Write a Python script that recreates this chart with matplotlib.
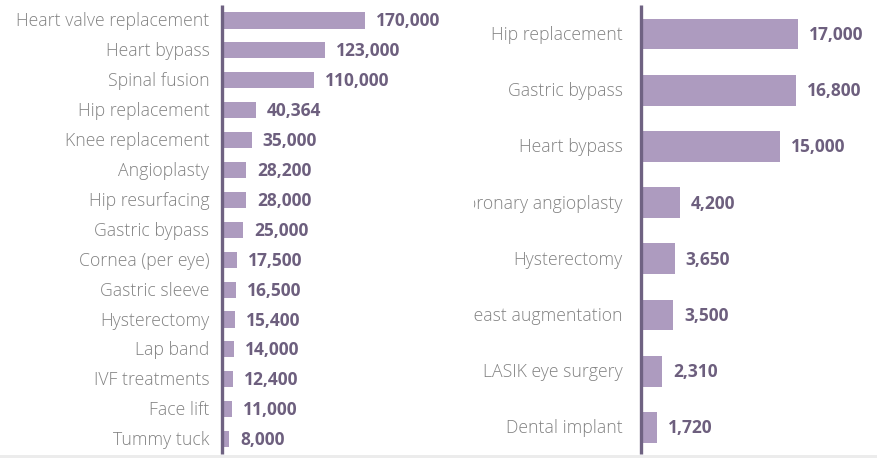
import matplotlib.pyplot as plt
from matplotlib.transforms import offset_copy

# Procedure costs (USD) - left: US prices, right: abroad prices
left_labels = ["Heart valve replacement", "Heart bypass", "Spinal fusion", "Hip replacement",
               "Knee replacement", "Angioplasty", "Hip resurfacing", "Gastric bypass",
               "Cornea (per eye)", "Gastric sleeve", "Hysterectomy", "Lap band",
               "IVF treatments", "Face lift", "Tummy tuck"]
left_values = [170000, 123000, 110000, 40364, 35000, 28200, 28000, 25000,
               17500, 16500, 15400, 14000, 12400, 11000, 8000]

right_labels = ["Hip replacement", "Gastric bypass", "Heart bypass", "Coronary angioplasty",
                "Hysterectomy", "Breast augmentation", "LASIK eye surgery", "Dental implant"]
right_values = [17000, 16800, 15000, 4200, 3650, 3500, 2310, 1720]

BAR = "#ad9bbf"
AXIS = "#6f6282"
LABEL = "#828282"
VALUE = "#6d5f7e"

W, H = 878, 458
plt.rcParams["font.family"] = ["Open Sans", "DejaVu Sans"]

fig = plt.figure(figsize=(W / 100, H / 100), dpi=100)


def panel(x0, x1, spine_x, px_per_unit, labels, values, top_px, step_px,
          bar_h, label_gap):
    ax = fig.add_axes([x0 / W, 0, (x1 - x0) / W, 1])
    n = len(labels)
    ax.set_xlim(-(spine_x - x0) / px_per_unit, (x1 - spine_x) / px_per_unit)
    ax.set_ylim(n - 1 + (H - top_px - step_px * (n - 1)) / step_px, -top_px / step_px)
    ax.axis("off")
    ys = list(range(n))
    ax.barh(ys, values, height=bar_h, color=BAR, zorder=2)
    ax.plot([0, 0], [-(top_px - 5) / step_px, n - 1 + (454 - top_px - step_px * (n - 1)) / step_px],
            color=AXIS, lw=2.4, zorder=3, solid_capstyle="butt")
    lab_tr = offset_copy(ax.transData, fig=fig, x=-label_gap, y=-1, units="dots")
    val_tr = offset_copy(ax.transData, fig=fig, x=11, y=-1, units="dots")
    for y, lab, v in zip(ys, labels, values):
        ax.text(0, y, lab, transform=lab_tr, ha="right", va="center",
                fontsize=12.7, color=LABEL, fontweight="light", clip_on=True)
        ax.text(v, y, f"{v:,}", transform=val_tr, ha="left", va="center",
                fontsize=12.5, color=VALUE, fontweight="bold")
    return ax


panel(0, 440, 222.5, 142 / 170000, left_labels, left_values, 20.5, 29.9, 0.54, 13)
panel(474, W, 641, 157 / 17000, right_labels, right_values, 34, 56.2, 0.55, 18)

# faint strip along the bottom edge
fig.add_artist(plt.Rectangle((0, 0), 1, 3 / H, transform=fig.transFigure,
                             color="#ececec", lw=0))

fig.savefig("out.png", dpi=100, facecolor="white")
